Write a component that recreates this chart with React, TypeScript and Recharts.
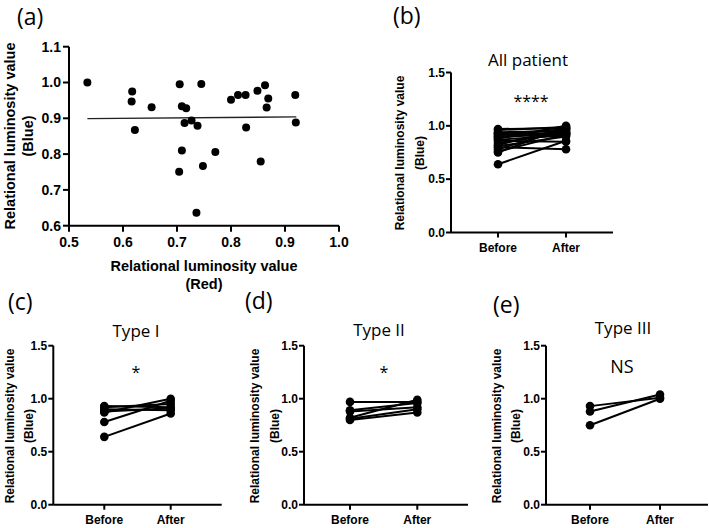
import React from 'react';
import {
  ScatterChart,
  Scatter,
  LineChart,
  Line,
  XAxis,
  YAxis,
  ReferenceLine,
} from 'recharts';

// ---- Panel (a): red vs blue relational luminosity per case ----
const redValues = [
  0.534, 0.617, 0.616, 0.622, 0.653, 0.705, 0.709, 0.717, 0.714, 0.727,
  0.738, 0.709, 0.704, 0.736, 0.745, 0.771, 0.748, 0.8, 0.813, 0.827,
  0.828, 0.849, 0.863, 0.869, 0.866, 0.855, 0.919, 0.92,
];
const blueValues = [
  1.0, 0.975, 0.947, 0.867, 0.931, 0.995, 0.934, 0.928, 0.887, 0.894,
  0.879, 0.81, 0.751, 0.636, 0.996, 0.806, 0.767, 0.952, 0.965, 0.965,
  0.874, 0.977, 0.992, 0.955, 0.93, 0.779, 0.965, 0.888,
];
// fitted regression line end points (x, y)
const fitStart = { x: 0.534, y: 0.899 };
const fitEnd = { x: 0.921, y: 0.904 };
const scatterXTicks = [0.5, 0.6, 0.7, 0.8, 0.9, 1.0];
const scatterYTicks = [0.6, 0.7, 0.8, 0.9, 1.0, 1.1];

// ---- Panels (b)-(e): paired before / after values ----
const pairCategories = ['Before', 'After'];
const pairYTicks = [0, 0.5, 1.0, 1.5];

const allBefore = [0.97, 0.96, 0.94, 0.93, 0.92, 0.91, 0.9, 0.89, 0.88, 0.87, 0.86, 0.84, 0.82, 0.81, 0.8, 0.78, 0.76, 0.75, 0.64];
const allAfter = [0.98, 0.99, 0.95, 0.96, 0.93, 0.97, 0.92, 0.94, 1.0, 0.91, 0.85, 0.93, 0.98, 0.9, 0.78, 0.97, 0.92, 0.99, 0.86];

const type1Before = [0.93, 0.92, 0.9, 0.88, 0.87, 0.78, 0.64];
const type1After = [0.92, 0.95, 0.89, 0.91, 1.0, 0.98, 0.86];

const type2Before = [0.97, 0.89, 0.88, 0.82, 0.81, 0.8];
const type2After = [0.97, 0.96, 0.92, 0.99, 0.9, 0.87];

const type3Before = [0.93, 0.88, 0.75];
const type3After = [1.01, 1.04, 1.0];

const FONT_BOLD = '"Liberation Sans", Arial, sans-serif';
const FONT_TITLE = '"Open Sans", "Liberation Sans", sans-serif';

type Rect = { l: number; r: number; t: number; b: number };
type Box = { x: number; y: number; w: number; h: number };

const Y_AXIS_W = 40;

function marginsFor(plot: Rect, box: Box, xAxisH: number) {
  return {
    left: plot.l - box.x - Y_AXIS_W,
    right: box.x + box.w - plot.r,
    top: plot.t - box.y,
    bottom: box.y + box.h - plot.b - xAxisH,
  };
}

const axisStroke = { stroke: '#000', strokeWidth: 2 };

function ScatterPanel() {
  const box: Box = { x: 0, y: 0, w: 360, h: 262 };
  const plot: Rect = { l: 69, r: 339, t: 46.7, b: 225.7 };
  const xAxisH = 30;
  const points = redValues.map((x, i) => ({ x, y: blueValues[i] }));
  return (
    <div style={{ position: 'absolute', left: box.x, top: box.y }}>
      <ScatterChart width={box.w} height={box.h} margin={marginsFor(plot, box, xAxisH)}>
        <XAxis
          type="number"
          dataKey="x"
          domain={[0.5, 1.0]}
          ticks={scatterXTicks}
          tickFormatter={(v: number) => v.toFixed(1)}
          axisLine={axisStroke}
          tickLine={axisStroke}
          tickSize={6}
          tickMargin={5}
          height={xAxisH}
          tick={{ fill: '#000', fontSize: 14, fontWeight: 700, fontFamily: FONT_BOLD }}
          interval={0}
        />
        <YAxis
          type="number"
          dataKey="y"
          domain={[0.6, 1.1]}
          ticks={scatterYTicks}
          tickFormatter={(v: number) => v.toFixed(1)}
          axisLine={axisStroke}
          tickLine={axisStroke}
          tickSize={6}
          tickMargin={2}
          width={Y_AXIS_W}
          tick={{ fill: '#000', fontSize: 14, fontWeight: 700, fontFamily: FONT_BOLD }}
          interval={0}
        />
        <ReferenceLine
          segment={[fitStart, fitEnd]}
          stroke="#222"
          strokeWidth={1.4}
          ifOverflow="visible"
        />
        <Scatter
          data={points}
          fill="#000"
          isAnimationActive={false}
          shape={(p: any) => <circle cx={p.cx} cy={p.cy} r={4} fill="#000" />}
        />
      </ScatterChart>
    </div>
  );
}

function PairedPanel(props: {
  before: number[];
  after: number[];
  box: Box;
  plot: Rect;
  padL: number;
  padR: number;
}) {
  const { before, after, box, plot, padL, padR } = props;
  const xAxisH = 22;
  const rows = pairCategories.map((name, ci) => {
    const row: Record<string, number | string> = { name };
    const src = ci === 0 ? before : after;
    src.forEach((v, i) => {
      row[`p${i}`] = v;
    });
    return row;
  });
  return (
    <div style={{ position: 'absolute', left: box.x, top: box.y }}>
      <LineChart width={box.w} height={box.h} data={rows} margin={marginsFor(plot, box, xAxisH)}>
        <XAxis
          dataKey="name"
          padding={{ left: padL, right: padR }}
          axisLine={axisStroke}
          tickLine={axisStroke}
          tickSize={5}
          tickMargin={6}
          height={xAxisH}
          interval={0}
          tick={{ fill: '#000', fontSize: 12, fontWeight: 700, fontFamily: FONT_BOLD }}
        />
        <YAxis
          type="number"
          domain={[0, 1.5]}
          ticks={pairYTicks}
          tickFormatter={(v: number) => v.toFixed(1)}
          axisLine={axisStroke}
          tickLine={axisStroke}
          tickSize={5}
          tickMargin={1}
          width={Y_AXIS_W}
          interval={0}
          tick={{ fill: '#000', fontSize: 12, fontWeight: 700, fontFamily: FONT_BOLD }}
        />
        {before.map((_, i) => (
          <Line
            key={i}
            dataKey={`p${i}`}
            stroke="#000"
            strokeWidth={2}
            dot={{ r: 4.3, fill: '#000', stroke: '#000', strokeWidth: 0 }}
            activeDot={false}
            isAnimationActive={false}
          />
        ))}
      </LineChart>
    </div>
  );
}

function YLabel({ x1, x2, cy, size }: { x1: number; x2: number; cy: number; size: number }) {
  const style = { fontFamily: FONT_BOLD, fontWeight: 700, fontSize: size, fill: '#000' };
  return (
    <g>
      <text x={x1} y={cy} transform={`rotate(-90 ${x1} ${cy})`} textAnchor="middle" dominantBaseline="central" style={style}>
        Relational luminosity value
      </text>
      <text x={x2} y={cy} transform={`rotate(-90 ${x2} ${cy})`} textAnchor="middle" dominantBaseline="central" style={style}>
        (Blue)
      </text>
    </g>
  );
}

function Annotations() {
  const panelLabel = { fontFamily: FONT_TITLE, fontSize: 23, fill: '#000' };
  const title = { fontFamily: FONT_TITLE, fontSize: 17, fill: '#000' };
  const sig = { fontFamily: FONT_TITLE, fontSize: 16, fill: '#000' };
  const axisTitle = { fontFamily: FONT_BOLD, fontWeight: 700, fontSize: 14.5, fill: '#000' };
  return (
    <svg width={709} height={528} style={{ position: 'absolute', left: 0, top: 0, pointerEvents: 'none' }}>
      <text x={17} y={16} dominantBaseline="central" style={panelLabel}>(a)</text>
      <text x={393} y={15} dominantBaseline="central" style={panelLabel}>(b)</text>
      <text x={8} y={301} dominantBaseline="central" style={panelLabel}>(c)</text>
      <text x={245} y={300} dominantBaseline="central" style={panelLabel}>(d)</text>
      <text x={493} y={304} dominantBaseline="central" style={panelLabel}>(e)</text>

      <g>
        <text x={10} y={136} transform="rotate(-90 10 136)" textAnchor="middle" dominantBaseline="central" style={axisTitle}>
          Relational luminosity value
        </text>
        <text x={28} y={136} transform="rotate(-90 28 136)" textAnchor="middle" dominantBaseline="central" style={axisTitle}>
          (Blue)
        </text>
        <text x={204} y={266} textAnchor="middle" dominantBaseline="central" style={axisTitle}>
          Relational luminosity value
        </text>
        <text x={204} y={284} textAnchor="middle" dominantBaseline="central" style={axisTitle}>
          (Red)
        </text>
      </g>

      <YLabel x1={400} x2={420} cy={153} size={12} />
      <YLabel x1={10} x2={29} cy={426} size={12} />
      <YLabel x1={255} x2={275} cy={426} size={12} />
      <YLabel x1={497} x2={515.5} cy={426} size={12} />

      <text x={528} y={59} textAnchor="middle" dominantBaseline="central" style={title}>All patient</text>
      <text x={136} y={330} textAnchor="middle" dominantBaseline="central" style={title}>Type I</text>
      <text x={379} y={329} textAnchor="middle" dominantBaseline="central" style={title}>Type II</text>
      <text x={623} y={327} textAnchor="middle" dominantBaseline="central" style={title}>Type III</text>

      <text x={531} y={101} textAnchor="middle" dominantBaseline="central" style={sig}>****</text>
      <text x={136} y={372} textAnchor="middle" dominantBaseline="central" style={sig}>*</text>
      <text x={384} y={372} textAnchor="middle" dominantBaseline="central" style={sig}>*</text>
      <text x={622} y={366} textAnchor="middle" dominantBaseline="central" style={{ ...title, fontSize: 18 }}>NS</text>
    </svg>
  );
}

export default function App() {
  const lowerPlot = { t: 345.7, b: 504.7 };
  return (
    <div style={{ position: 'absolute', left: 0, top: 0, width: 709, height: 528, background: '#fff', overflow: 'hidden' }}>
      <ScatterPanel />
      <PairedPanel
        before={allBefore}
        after={allAfter}
        box={{ x: 400, y: 40, w: 230, h: 230 }}
        plot={{ l: 451, r: 613, t: 72.5, b: 232.5 }}
        padL={47}
        padR={47}
      />
      <PairedPanel
        before={type1Before}
        after={type1After}
        box={{ x: 0, y: 320, w: 235, h: 208 }}
        plot={{ l: 53.3, r: 221.7, ...lowerPlot }}
        padL={51}
        padR={51}
      />
      <PairedPanel
        before={type2Before}
        after={type2After}
        box={{ x: 250, y: 320, w: 225, h: 208 }}
        plot={{ l: 304, r: 468, ...lowerPlot }}
        padL={46}
        padR={50.7}
      />
      <PairedPanel
        before={type3Before}
        after={type3After}
        box={{ x: 490, y: 320, w: 219, h: 208 }}
        plot={{ l: 546, r: 708, ...lowerPlot }}
        padL={44}
        padR={48}
      />
      <Annotations />
    </div>
  );
}
